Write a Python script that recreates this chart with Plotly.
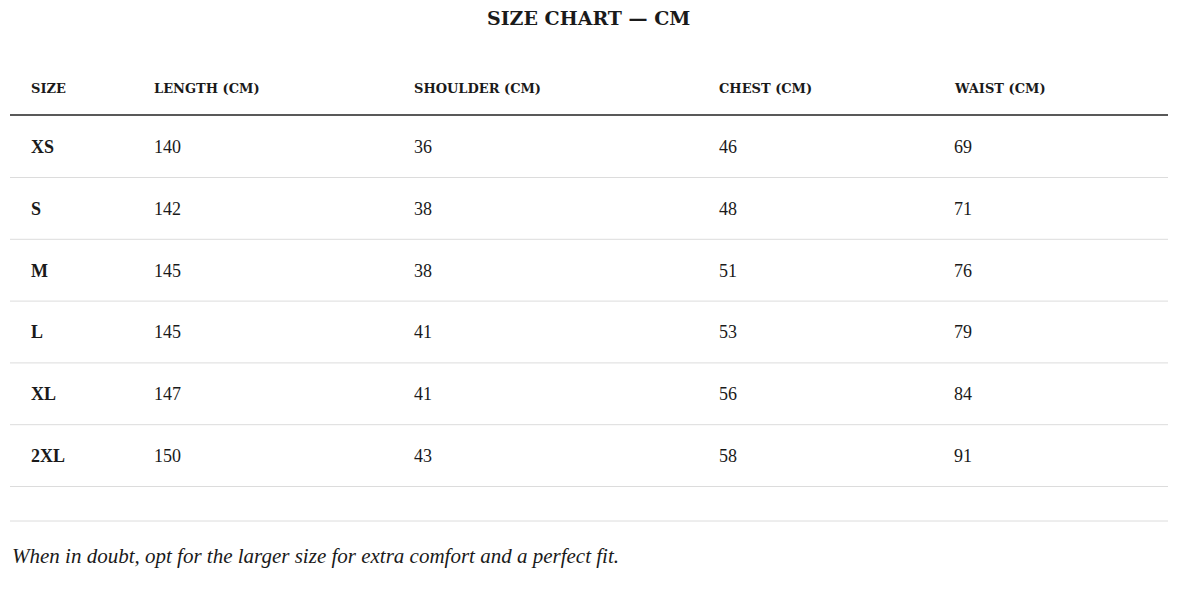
import plotly.graph_objects as go

title = "SIZE CHART — CM"
headers = ["SIZE", "LENGTH (CM)", "SHOULDER (CM)", "CHEST (CM)", "WAIST (CM)"]
sizes = ["XS", "S", "M", "L", "XL", "2XL"]
length = [140, 142, 145, 145, 147, 150]
shoulder = [36, 38, 38, 41, 41, 43]
chest = [46, 48, 51, 53, 56, 58]
waist = [69, 71, 76, 79, 84, 91]
note = "When in doubt, opt for the larger size for extra comfort and a perfect fit."

W, H = 1200, 593
OFF = 8
col_x = [29, 152, 412, 717, 952]
row_y0, row_h = 147, 61.8
FONT = "Georgia, 'Liberation Serif', 'DejaVu Serif', serif"
HFONT = "'DejaVu Serif', serif"
INK = "#1a1a1a"

fig = go.Figure()
ann = []
ann.append(dict(x=588 - OFF, y=18 - OFF, text="<b>" + title + "</b>", showarrow=False,
                font=dict(family=HFONT, size=19, color=INK), xanchor="center", yanchor="middle"))
for x, h in zip(col_x, headers):
    ann.append(dict(x=x - OFF, y=88 - OFF, text="<b>" + h + "</b>", showarrow=False,
                    xanchor="left", yanchor="middle",
                    font=dict(family=HFONT, size=13, color=INK)))
cols = [sizes, length, shoulder, chest, waist]
shapes = [dict(type="line", x0=10 - OFF, x1=1168 - OFF, y0=115 - OFF, y1=115 - OFF,
               xref="x", yref="y", line=dict(color="#222", width=1.5))]
for i in range(len(sizes)):
    y = row_y0 + i * row_h - OFF
    for j, (x, col) in enumerate(zip(col_x, cols)):
        t = str(col[i])
        if j == 0:
            t = "<b>" + t + "</b>"
        ann.append(dict(x=x - OFF, y=y, text=t, showarrow=False, xanchor="left", yanchor="middle",
                        font=dict(family=FONT, size=18, color=INK)))
    yl = y + 30.5
    shapes.append(dict(type="line", x0=10 - OFF, x1=1168 - OFF, y0=yl, y1=yl, xref="x", yref="y",
                       line=dict(color="#dcdcdc", width=1)))
shapes.append(dict(type="line", x0=10 - OFF, x1=1168 - OFF, y0=521 - OFF, y1=521 - OFF,
                   xref="x", yref="y", line=dict(color="#dcdcdc", width=1)))
ann.append(dict(x=10 - OFF, y=556 - OFF, text="<i>" + note + "</i>", showarrow=False,
                xanchor="left", yanchor="middle", font=dict(family=FONT, size=21, color=INK)))

fig.update_layout(width=W, height=H, margin=dict(l=0, r=0, t=0, b=0),
                  paper_bgcolor="white", plot_bgcolor="white",
                  xaxis=dict(range=[0, W], visible=False, fixedrange=True),
                  yaxis=dict(range=[H, 0], visible=False, fixedrange=True),
                  annotations=ann, shapes=shapes, showlegend=False)
fig.write_html("out.html")
